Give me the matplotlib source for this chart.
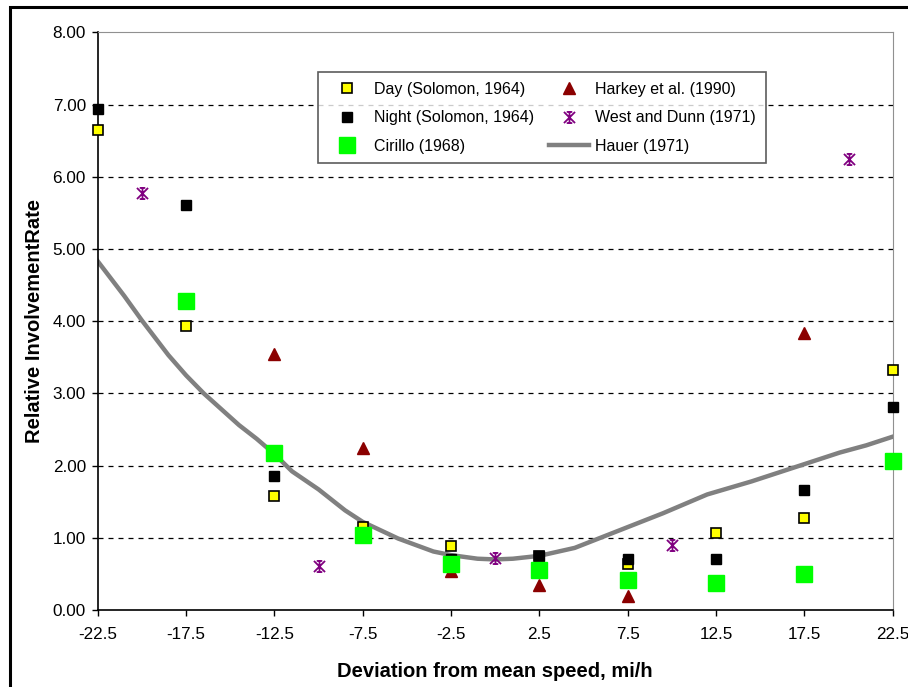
import numpy as np
import matplotlib
matplotlib.use('Agg')
import matplotlib.pyplot as plt
from matplotlib.path import Path
from matplotlib.patches import Rectangle

plt.rcParams['font.family'] = ['Liberation Sans', 'DejaVu Sans']

# deviation from mean speed (mi/h)
x_bins = [-22.5, -17.5, -12.5, -7.5, -2.5, 2.5, 7.5, 12.5, 17.5, 22.5]

day_solomon = [6.64, 3.93, 1.58, 1.15, 0.88, 0.75, 0.64, 1.07, 1.27, 3.33]
night_solomon = [6.94, 5.61, 1.86, 1.05, 0.70, 0.75, 0.70, 0.70, 1.66, 2.81]

cirillo_x = [-17.5, -12.5, -7.5, -2.5, 2.5, 7.5, 12.5, 17.5, 22.5]
cirillo = [4.28, 2.17, 1.04, 0.64, 0.55, 0.42, 0.37, 0.50, 2.06]

harkey_x = [-12.5, -7.5, -2.5, 2.5, 7.5, 17.5]
harkey = [3.54, 2.25, 0.54, 0.35, 0.19, 3.83]

west_x = [-20, -10, 0, 10, 20]
west_dunn = [5.77, 0.61, 0.72, 0.90, 6.24]

hauer_x = [-22.5, -21, -20, -18.5, -17.5, -16.5, -15.5, -14.5, -13.5, -12.5,
           -11.5, -10, -8.5, -7.5, -5.5, -3.5, -2.5, -1, 0, 1, 2.5, 4.5,
           7, 9.5, 12, 14.5, 17.5, 19.5, 21, 22.5]
hauer = [4.83, 4.35, 4.01, 3.53, 3.25, 3.00, 2.78, 2.56, 2.37, 2.16,
         1.92, 1.67, 1.38, 1.22, 0.99, 0.81, 0.76, 0.71, 0.70, 0.71, 0.75, 0.86,
         1.10, 1.34, 1.60, 1.78, 2.02, 2.18, 2.28, 2.40]

# excel-like star marker: X with vertical line and caps
star = Path([(-1, -1), (1, 1), (-1, 1), (1, -1), (0, -1), (0, 1),
             (-0.5, 1), (0.5, 1), (-0.5, -1), (0.5, -1)],
            [Path.MOVETO, Path.LINETO] * 5)

fig = plt.figure(figsize=(9.08, 6.87), dpi=100)
ax = fig.add_axes([0.1076, 0.1121, 0.8756, 0.8409])

# outer frame
fig.patches.append(Rectangle((0.011, -0.05), 1.5, 1.0398, transform=fig.transFigure,
                             fill=False, edgecolor='black', linewidth=2.2))

ax.plot(hauer_x, hauer, color='#808080', linewidth=3.2, label='Hauer (1971)', zorder=2)
ax.plot(x_bins, day_solomon, 's', color='#FFFF00', markeredgecolor='black',
        markersize=7, markeredgewidth=1.2, label='Day (Solomon, 1964)',
        zorder=3, clip_on=False)
ax.plot(x_bins, night_solomon, 's', color='black', markersize=7,
        label='Night (Solomon, 1964)', zorder=3, clip_on=False)
ax.plot(cirillo_x, cirillo, 's', color='#00FF00', markersize=11.5,
        label='Cirillo (1968)', zorder=4, clip_on=False)
ax.plot(harkey_x, harkey, '^', color='#8B0000', markersize=8,
        label='Harkey et al. (1990)', zorder=3, clip_on=False)
ax.plot(west_x, west_dunn, marker=star, linestyle='none', color='#800080',
        markersize=8, markeredgewidth=1.3, label='West and Dunn (1971)',
        zorder=3, clip_on=False)

ax.set_xlim(-22.5, 22.5)
ax.set_ylim(0, 8)
ax.set_xticks(np.arange(-22.5, 22.6, 5))
ax.set_xticklabels(['-22.5', '-17.5', '-12.5', '-7.5', '-2.5', '2.5', '7.5', '12.5', '17.5', '22.5'])
ax.set_yticks(np.arange(0, 8.1, 1))
ax.set_yticklabels(['%.2f' % v for v in np.arange(0, 8.1, 1)])
ax.tick_params(labelsize=12.3, length=4.5, width=1, pad=4, color='black')
ax.tick_params(axis='x', pad=7.5)

for v in range(1, 8):
    ax.axhline(v, color='black', linestyle=(0, (4, 4)), linewidth=0.9, zorder=1)

ax.spines['left'].set_linewidth(1.2)
ax.spines['bottom'].set_linewidth(1.2)
ax.spines['top'].set_color('#909090')
ax.spines['right'].set_color('#909090')

ax.set_xlabel('Deviation from mean speed, mi/h', fontsize=14.5, fontweight='bold', labelpad=15)
ax.set_ylabel('Relative InvolvementRate', fontsize=14.5, fontweight='bold', labelpad=6)

h, l = ax.get_legend_handles_labels()
order = [1, 2, 3, 4, 5, 0]
leg = ax.legend([h[i] for i in order], [l[i] for i in order], ncol=2,
                loc='upper left', bbox_to_anchor=(0.277, 0.931), fontsize=11.5,
                frameon=True, fancybox=False, edgecolor='#333333',
                handlelength=2.5, handletextpad=0.4, columnspacing=0.95,
                labelspacing=0.85, borderpad=0.6, borderaxespad=0)
leg.get_frame().set_linewidth(1.2)

fig.savefig('out.png', dpi=100)
